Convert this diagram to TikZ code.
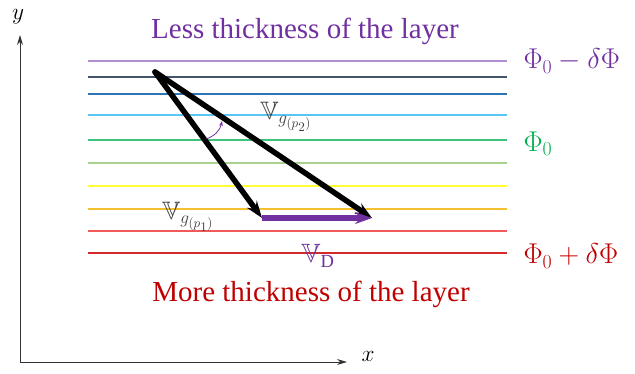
\documentclass[tikz,border=0pt]{standalone}
\usepackage{amssymb}
\usepackage{fontspec}
\setmainfont{Liberation Serif}
\usetikzlibrary{arrows.meta}
\definecolor{layA}{HTML}{B08FD0}
\definecolor{layB}{HTML}{44546A}
\definecolor{layC}{HTML}{2E75B6}
\definecolor{layD}{HTML}{5BC5F2}
\definecolor{layE}{HTML}{3CC47C}
\definecolor{layF}{HTML}{A9D18E}
\definecolor{layG}{HTML}{FFFF33}
\definecolor{layH}{HTML}{F4C030}
\definecolor{layI}{HTML}{F05A5A}
\definecolor{layJ}{HTML}{D42A2A}
\definecolor{titlepurple}{HTML}{7030A0}
\definecolor{phigreen}{HTML}{00B050}
\definecolor{titlered}{HTML}{C00000}
\begin{document}
\begin{tikzpicture}[
        x=1pt, y=-1pt,
        layer/.style={line width=1.4pt},
        axis/.style={-{Stealth[length=10pt,width=6pt]}, line width=1pt, black!80},
        vec/.style={-{Stealth[length=17pt,width=12pt,inset=6pt]}, line width=5.5pt, line cap=round},
        vlabel/.style={font=\fontsize{21}{21}\selectfont, text=black!75},
        philabel/.style={font=\fontsize{24}{24}\selectfont, anchor=west}
    ]
        \useasboundingbox (0,0) rectangle (635,373);
        % Axes
        \coordinate (org) at (20,362);
        \coordinate (ytip) at (20,35);
        \coordinate (xtip) at (347,362);
        \draw[axis] (org) -- (ytip);
        \draw[axis] (org) -- (xtip);
        \node[font=\fontsize{17}{17}\selectfont] (ylab) at (18,17) {\scalebox{1.35}{$y$}};
        \node[font=\fontsize{17}{17}\selectfont] (xlab) at (368,356) {\scalebox{1.35}{$x$}};

        % Layers
        \foreach \yy/\cc in {61/layA, 77/layB, 94/layC, 115/layD, 140/layE, 163/layF, 186/layG, 209/layH, 231/layI, 253/layJ}
            \draw[layer, \cc] (88,\yy) -- (507,\yy);

        % Titles
        \node[text=titlepurple, font=\fontsize{29}{29}\selectfont] (less) at (305,31) {Less thickness of the layer};
        \node[text=titlered, font=\fontsize{29}{29}\selectfont] (more) at (311,294) {More thickness of the layer};

        % Level labels
        \node[philabel, text=titlepurple] (phim) at (520,61) {\scalebox{1.15}{$\Phi_0-\delta\Phi$}};
        \node[philabel, text=phigreen] (phi0) at (520,144) {\scalebox{1.15}{$\Phi_0$}};
        \node[philabel, text=titlered] (phip) at (520,256) {\scalebox{1.15}{$\Phi_0+\delta\Phi$}};

        % Vectors
        \coordinate (start) at (155,72);
        \coordinate (endA) at (262,218);
        \coordinate (endB) at (372,218);
        \draw[vec] (start) -- (endA);
        \draw[vec] (start) -- (endB);
        \draw[vec, titlepurple, line cap=butt] (endA) -- (endB);
        \draw[-{Stealth[length=5pt]}, titlepurple, line width=0.8pt] (206,139) to[bend right=30] (222,121);

        \node[vlabel] (vgb) at (286,117) {\scalebox{1.2}{$\mathbb{V}_{g_{(p_2)}}$}};
        \node[vlabel] (vga) at (188,217) {\scalebox{1.2}{$\mathbb{V}_{g_{(p_1)}}$}};
        \node[font=\fontsize{23}{23}\selectfont, text=titlepurple] (vd) at (318,256) {\scalebox{1.15}{$\mathbb{V}_{\mathrm{D}}$}};
    \end{tikzpicture}
\end{document}
